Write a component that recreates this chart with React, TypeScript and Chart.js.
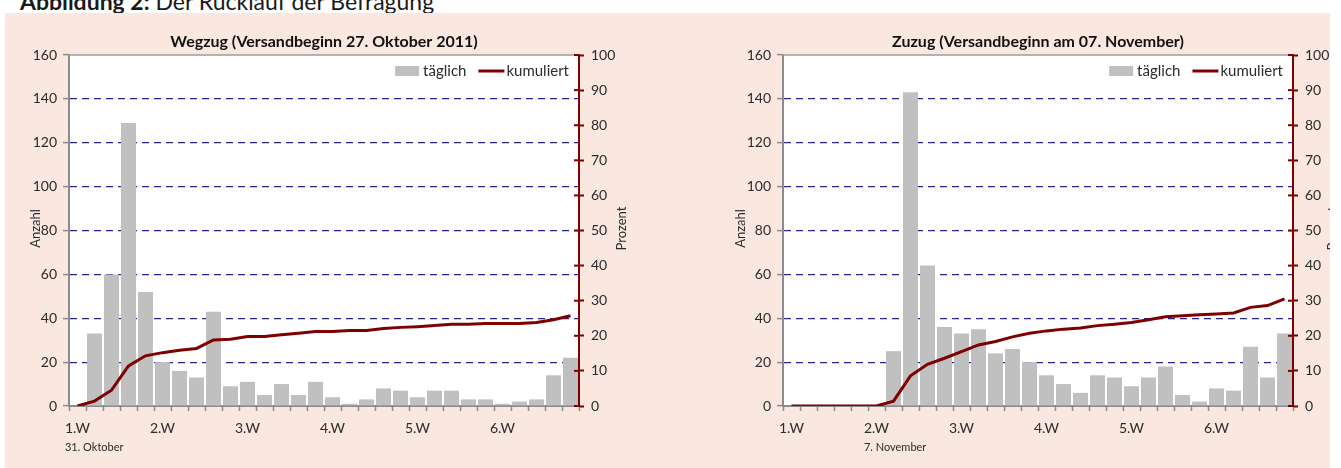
import React, { useEffect, useRef } from "react";
import { Chart, registerables } from "chart.js";

Chart.register(...registerables);

// ---------- data ----------
const dayLabels = [
  "1.W", "", "", "", "",
  "2.W", "", "", "", "",
  "3.W", "", "", "", "",
  "4.W", "", "", "", "",
  "5.W", "", "", "", "",
  "6.W", "", "", "", "",
];

const wegzugDaily = [null, 33, 60, 129, 52, 20, 16, 13, 43, 9, 11, 5, 10, 5, 11, 4, 1, 3, 8, 7, 4, 7, 7, 3, 3, 1, 2, 3, 14, 22];
const wegzugCumulative = [0, 1.4, 4.5, 11.4, 14.3, 15.2, 15.9, 16.4, 18.8, 19.0, 19.8, 19.8, 20.3, 20.7, 21.2, 21.2, 21.5, 21.5, 22.1, 22.4, 22.6, 22.9, 23.3, 23.3, 23.5, 23.5, 23.5, 23.8, 24.6, 25.7];

const zuzugDaily = [null, null, null, null, null, null, 25, 143, 64, 36, 33, 35, 24, 26, 20, 14, 10, 6, 14, 13, 9, 13, 18, 5, 2, 8, 7, 27, 13, 33];
const zuzugCumulative = [0, 0, 0, 0, 0, 0, 1.4, 8.6, 11.9, 13.6, 15.5, 17.4, 18.4, 19.7, 20.7, 21.4, 21.9, 22.2, 22.9, 23.3, 23.8, 24.6, 25.4, 25.7, 26.0, 26.2, 26.5, 28.1, 28.6, 30.5];

const countAxis = [0, 160, 20];
const percentAxis = [0, 100, 10];

const seriesNames = ["täglich", "kumuliert"];
const axisTitles = ["Anzahl", "Prozent"];

// ---------- styles ----------
const FONT = 'Lato, "Open Sans", "Noto Sans", sans-serif';
const RED = "#7f0000";
const BAR = "#c0c0c0";
const GRID = "#262690";
const AXIS_GREY = "#8c8c8c";
const TEXT = "#2b2b2b";

type Props = {
  title: string;
  daily: (number | null)[];
  cumulative: number[];
  width: number;
  height: number;
  leftW: number;
  rightW: number;
  yTitleGap: number;
  y1TitleGap: number;
  subIndex: number;
  subLabel: string;
};

function RuecklaufChart(p: Props) {
  const ref = useRef<HTMLCanvasElement>(null);

  useEffect(() => {
    const decor = {
      id: "decor",
      beforeDraw(c: any) {
        const { ctx, chartArea: a } = c;
        ctx.save();
        ctx.fillStyle = "#ffffff";
        ctx.fillRect(a.left, a.top, a.right - a.left, a.bottom - a.top);
        ctx.restore();
      },
      afterDraw(c: any) {
        const { ctx, chartArea: a } = c;
        ctx.save();
        // top border
        ctx.strokeStyle = "#9c9c9c";
        ctx.lineWidth = 1.5;
        ctx.beginPath();
        ctx.moveTo(a.left, a.top);
        ctx.lineTo(a.right, a.top);
        ctx.stroke();
        // inward cross ticks on right axis
        const y1 = c.scales.y1;
        ctx.strokeStyle = RED;
        ctx.lineWidth = 2;
        y1.ticks.forEach((t: any) => {
          const py = y1.getPixelForValue(t.value);
          ctx.beginPath();
          ctx.moveTo(a.right - 5, py);
          ctx.lineTo(a.right, py);
          ctx.stroke();
        });
        // chart title
        ctx.fillStyle = "#111";
        ctx.font = `bold 16px ${FONT}`;
        ctx.textAlign = "center";
        ctx.textBaseline = "middle";
        ctx.fillText(p.title, (a.left + a.right) / 2, 28.5);
        // axis titles
        ctx.fillStyle = TEXT;
        ctx.font = `13px ${FONT}`;
        const midY = (a.top + a.bottom) / 2 - 2;
        ctx.save();
        ctx.translate(a.left - p.yTitleGap, midY);
        ctx.rotate(-Math.PI / 2);
        ctx.fillText(axisTitles[0], 0, 0);
        ctx.restore();
        ctx.save();
        ctx.translate(a.right + p.y1TitleGap, midY);
        ctx.rotate(-Math.PI / 2);
        ctx.fillText(axisTitles[1], 0, 0);
        ctx.restore();
        // legend
        ctx.font = `15px ${FONT}`;
        ctx.textAlign = "left";
        ctx.textBaseline = "middle";
        const ly = a.top + 16;
        const w1 = ctx.measureText(seriesNames[0]).width;
        const w2 = ctx.measureText(seriesNames[1]).width;
        const t2x = a.right - 10 - w2;
        ctx.fillStyle = TEXT;
        ctx.fillText(seriesNames[1], t2x, ly);
        ctx.strokeStyle = RED;
        ctx.lineWidth = 3;
        ctx.beginPath();
        ctx.moveTo(t2x - 28, ly);
        ctx.lineTo(t2x - 2, ly);
        ctx.stroke();
        const t1x = t2x - 28 - 12 - w1;
        ctx.fillText(seriesNames[0], t1x, ly);
        ctx.fillStyle = BAR;
        ctx.fillRect(t1x - 4 - 24, ly - 5, 24, 10);
        // sub label under week label
        const xs = c.scales.x;
        const cx = xs.getPixelForValue(p.subIndex);
        ctx.font = `14px ${FONT}`;
        const wl = ctx.measureText(dayLabels[p.subIndex]).width;
        ctx.font = `11px ${FONT}`;
        ctx.fillStyle = TEXT;
        ctx.fillText(p.subLabel, cx - wl / 2, a.bottom + 41);
        ctx.restore();
      },
    };

    const chart = new Chart(ref.current as HTMLCanvasElement, {
      type: "bar",
      data: {
        labels: dayLabels,
        datasets: [
          {
            type: "line",
            label: seriesNames[1],
            data: p.cumulative,
            borderColor: RED,
            backgroundColor: RED,
            borderWidth: 3,
            pointRadius: 0,
            tension: 0,
            yAxisID: "y1",
            order: 0,
          } as any,
          {
            type: "bar",
            label: seriesNames[0],
            data: p.daily,
            backgroundColor: BAR,
            borderWidth: 0,
            categoryPercentage: 1,
            barPercentage: 0.88,
            yAxisID: "y",
            order: 1,
          },
        ],
      },
      options: {
        responsive: false,
        animation: false,
        layout: { padding: { top: 42, left: 0, right: 0, bottom: 0 } },
        plugins: {
          legend: { display: false },
          title: { display: false },
          tooltip: { enabled: false },
        },
        scales: {
          x: {
            offset: true,
            afterFit: (s: any) => {
              s.height = 62;
            },
            grid: {
              offset: true,
              drawOnChartArea: false,
              drawTicks: true,
              tickLength: 5,
              tickColor: AXIS_GREY,
              tickWidth: 1.5,
            },
            border: { display: true, color: AXIS_GREY, width: 2 },
            ticks: {
              autoSkip: false,
              maxRotation: 0,
              minRotation: 0,
              padding: 9,
              color: TEXT,
              font: { family: FONT, size: 14 },
              callback: (_v: any, i: number) => dayLabels[i],
            },
          },
          y: {
            position: "left",
            min: countAxis[0],
            max: countAxis[1],
            afterFit: (s: any) => {
              s.width = p.leftW;
            },
            ticks: {
              stepSize: countAxis[2],
              padding: 6,
              color: TEXT,
              font: { family: FONT, size: 14 },
            },
            grid: {
              color: (ctx: any) =>
                ctx.tick && (ctx.tick.value === countAxis[0] || ctx.tick.value === countAxis[1])
                  ? "rgba(0,0,0,0)"
                  : GRID,
              lineWidth: 1.2,
              drawTicks: true,
              tickLength: 6,
              tickColor: AXIS_GREY,
              tickWidth: 1.5,
            },
            border: { display: true, color: AXIS_GREY, width: 2, dash: [7, 5] },
          },
          y1: {
            position: "right",
            min: percentAxis[0],
            max: percentAxis[1],
            afterFit: (s: any) => {
              s.width = p.rightW;
            },
            ticks: {
              stepSize: percentAxis[2],
              padding: 7,
              color: TEXT,
              font: { family: FONT, size: 14 },
            },
            grid: {
              drawOnChartArea: false,
              drawTicks: true,
              tickLength: 5,
              tickColor: RED,
              tickWidth: 2,
            },
            border: { display: true, color: RED, width: 2 },
          },
        },
      } as any,
      plugins: [decor],
    });
    return () => chart.destroy();
  }, []);

  return (
    <canvas
      ref={ref}
      width={p.width}
      height={p.height}
      style={{ display: "block", width: p.width, height: p.height }}
    />
  );
}

export default function App() {
  return (
    <div
      style={{
        position: "fixed",
        left: 0,
        top: 0,
        width: 1341,
        height: 468,
        background: "#ffffff",
        overflow: "hidden",
        fontFamily: FONT,
      }}
    >
      <div
        style={{
          position: "absolute",
          left: 20,
          top: -10,
          fontSize: 23,
          lineHeight: "23px",
          color: "#1a1a1a",
          whiteSpace: "nowrap",
        }}
      >
        <b>Abbildung 2:</b> Der Rücklauf der Befragung
      </div>
      <div
        style={{
          position: "absolute",
          left: 5,
          top: 13,
          width: 1325,
          height: 460,
          background: "#f9e7e0",
          overflow: "hidden",
        }}
      >
        <div style={{ position: "absolute", left: 0, top: 0 }}>
          <RuecklaufChart
            title="Wegzug (Versandbeginn 27. Oktober 2011)"
            daily={wegzugDaily}
            cumulative={wegzugCumulative}
            width={645}
            height={455}
            leftW={64}
            rightW={71}
            yTitleGap={33}
            y1TitleGap={43}
            subIndex={0}
            subLabel="31. Oktober"
          />
        </div>
        <div style={{ position: "absolute", left: 645, top: 0 }}>
          <RuecklaufChart
            title="Zuzug (Versandbeginn am 07. November)"
            daily={zuzugDaily}
            cumulative={zuzugCumulative}
            width={700}
            height={455}
            leftW={133}
            rightW={57}
            yTitleGap={42}
            y1TitleGap={40}
            subIndex={5}
            subLabel="7. November"
          />
        </div>
      </div>
    </div>
  );
}
